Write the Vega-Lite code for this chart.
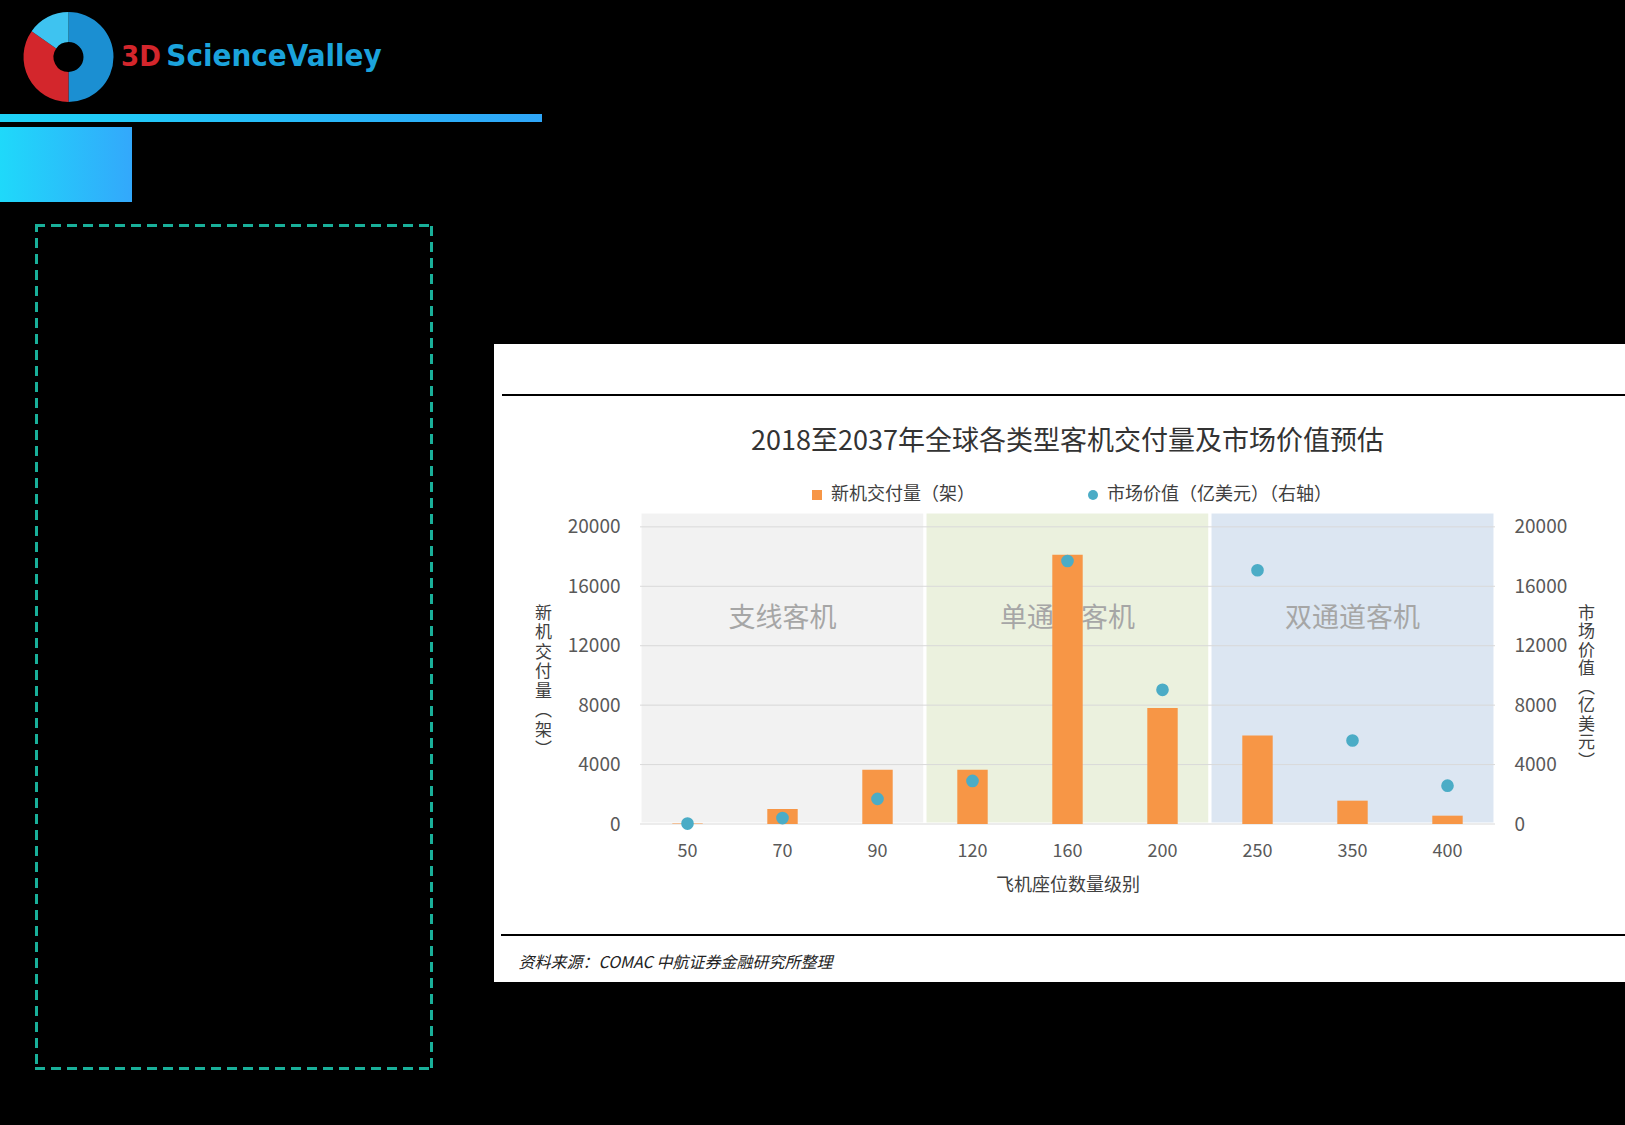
{
  "$schema": "https://vega.github.io/schema/vega-lite/v6.json",
  "background": "white",
  "padding": 0,
  "spacing": 0,
  "config": {
    "view": {"stroke": null},
    "concat": {"spacing": 0},
    "font": "Noto Sans CJK SC"
  },
  "resolve": {"scale": {"color": "independent", "fill": "independent", "theta": "independent"}},
  "data": {"values": []},
  "datasets": {
    "rows": [
      {"seats": "50", "deliveries": 40, "value": 30},
      {"seats": "70", "deliveries": 1010, "value": 400},
      {"seats": "90", "deliveries": 3650, "value": 1690},
      {"seats": "120", "deliveries": 3650, "value": 2900},
      {"seats": "160", "deliveries": 18120, "value": 17700},
      {"seats": "200", "deliveries": 7800, "value": 9030},
      {"seats": "250", "deliveries": 5950, "value": 17080},
      {"seats": "350", "deliveries": 1570, "value": 5620},
      {"seats": "400", "deliveries": 560, "value": 2580}
    ],
    "bands": [
      {"name": "支线客机", "from": "50", "to": "90", "mid": "70"},
      {"name": "单通道客机", "from": "120", "to": "200", "mid": "160"},
      {"name": "双通道客机", "from": "250", "to": "400", "mid": "350"}
    ],
    "grid": [{"g": 0}, {"g": 4000}, {"g": 8000}, {"g": 12000}, {"g": 16000}, {"g": 20000}],
    "swirl": [{"part": "a", "share": 180}, {"part": "b", "share": 125}, {"part": "c", "share": 55}]
  },
  "vconcat": [
    {
      "spacing": 0,
      "hconcat": [
        {"width": 23, "height": 114, "view": {"fill": "black"}, "mark": "point", "encoding": {}},
        {
          "width": 91, "height": 114,
          "view": {"fill": "black"},
          "data": {"name": "swirl"},
          "mark": {"type": "arc", "outerRadius": 45, "innerRadius": 15},
          "encoding": {
            "theta": {"field": "share", "type": "quantitative"},
            "color": {"field": "part", "type": "nominal", "scale": {"domain": ["a", "b", "c"], "range": ["#1B8FD2", "#D3262C", "#3EC3F0"]}, "legend": null}
          }
        },
        {"width": 5, "height": 114, "view": {"fill": "black"}, "mark": "point", "encoding": {}},
        {
          "width": 44, "height": 114,
          "view": {"fill": "black"},
          "data": {"values": [{}]},
          "mark": {"type": "text", "text": "3D", "font": "DejaVu Sans Condensed, DejaVu Sans, sans-serif", "fontSize": 29, "fontWeight": "bold", "color": "#D3262C", "align": "center", "baseline": "middle"},
          "encoding": {}
        },
        {
          "width": 222, "height": 114,
          "view": {"fill": "black"},
          "data": {"values": [{}]},
          "mark": {"type": "text", "text": "ScienceValley", "font": "DejaVu Sans Condensed, DejaVu Sans, sans-serif", "fontSize": 31, "fontWeight": "bold", "color": "#1BA3DC", "align": "center", "baseline": "middle"},
          "encoding": {}
        },
        {"width": 1240, "height": 114, "view": {"fill": "black"}, "mark": "point", "encoding": {}}
      ]
    },
    {
      "spacing": 0,
      "hconcat": [
        {
          "width": 542, "height": 8,
          "view": {"fill": "black"},
          "data": {"values": [{}]},
          "mark": {"type": "rect", "color": {"gradient": "linear", "stops": [{"offset": 0, "color": "#1ED3F8"}, {"offset": 1, "color": "#2FA6F8"}]}},
          "encoding": {}
        },
        {"width": 1083, "height": 8, "view": {"fill": "black"}, "mark": "point", "encoding": {}}
      ]
    },
    {"width": 1625, "height": 5, "view": {"fill": "black"}, "mark": "point", "encoding": {}},
    {
      "spacing": 0,
      "hconcat": [
        {
          "width": 132, "height": 75,
          "view": {"fill": "black"},
          "data": {"values": [{}]},
          "mark": {"type": "rect", "color": {"gradient": "linear", "stops": [{"offset": 0, "color": "#1FD9FA"}, {"offset": 1, "color": "#33A8FB"}]}},
          "encoding": {}
        },
        {"width": 1493, "height": 75, "view": {"fill": "black"}, "mark": "point", "encoding": {}}
      ]
    },
    {"width": 1625, "height": 22, "view": {"fill": "black"}, "mark": "point", "encoding": {}},
    {
      "spacing": 0,
      "resolve": {"scale": {"color": "independent", "fill": "independent"}},
      "hconcat": [
        {"width": 35, "height": 901, "view": {"fill": "black"}, "mark": "point", "encoding": {}},
        {
          "spacing": 0,
          "vconcat": [
            {
              "width": 398, "height": 846,
              "view": {"fill": "black"},
              "data": {"values": [{}]},
              "mark": {"type": "rect", "fill": "black", "stroke": "#19B09A", "strokeWidth": 6, "strokeDash": [10, 6], "clip": true},
              "encoding": {}
            },
            {"width": 398, "height": 55, "view": {"fill": "black"}, "mark": "point", "encoding": {}}
          ]
        },
        {"width": 61, "height": 901, "view": {"fill": "black"}, "mark": "point", "encoding": {}},
        {
          "spacing": 0,
          "resolve": {"scale": {"color": "independent", "fill": "independent"}},
          "vconcat": [
            {"width": 1131, "height": 120, "view": {"fill": "black"}, "mark": "point", "encoding": {}},
            {"width": 1131, "height": 50, "view": {"fill": "white"}, "mark": "point", "encoding": {}},
            {
              "spacing": 0,
              "hconcat": [
                {"width": 8, "height": 2, "view": {"fill": "white"}, "mark": "point", "encoding": {}},
                {"width": 1123, "height": 2, "view": {"fill": "black"}, "mark": "point", "encoding": {}}
              ]
            },
            {"width": 1131, "height": 32, "view": {"fill": "white"}, "mark": "point", "encoding": {}},
            {
              "spacing": 0,
              "resolve": {"scale": {"color": "independent", "fill": "independent"}},
              "hconcat": [
                {"width": 40, "height": 1, "view": {"fill": "white"}, "mark": "point", "encoding": {}},
                {
                  "width": 855, "height": 312,
                  "view": {"fill": "white", "stroke": null},
                  "title": {"text": "2018至2037年全球各类型客机交付量及市场价值预估", "fontSize": 27, "fontWeight": "normal", "color": "#333333", "anchor": "middle", "frame": "group", "offset": 30},
                  "resolve": {"scale": {"y": "independent"}},
                  "layer": [
                    {
                      "data": {"name": "bands"},
                      "mark": {"type": "rect", "stroke": "white", "strokeWidth": 3},
                      "encoding": {
                        "x": {
                          "field": "from", "type": "ordinal", "bandPosition": 0, "title": "飞机座位数量级别",
                          "scale": {"type": "band", "domain": ["50", "70", "90", "120", "160", "200", "250", "350", "400"], "paddingInner": 0, "paddingOuter": 0},
                          "axis": {"labelAngle": 0, "labelFontSize": 18, "labelColor": "#595959", "ticks": false, "domain": false, "grid": false, "labelPadding": 18, "titleFontSize": 18, "titleFontWeight": "normal", "titleColor": "#404040", "titlePadding": 16}
                        },
                        "x2": {"field": "to", "bandPosition": 1},
                        "fill": {"field": "name", "type": "nominal", "scale": {"domain": ["支线客机", "单通道客机", "双通道客机"], "range": ["#F2F2F2", "#EBF1DE", "#DCE6F2"]}, "legend": null}
                      }
                    },
                    {
                      "data": {"name": "grid"},
                      "mark": {"type": "rule", "color": "#D9D9D9", "strokeWidth": 1},
                      "encoding": {
                        "y": {"field": "g", "type": "quantitative", "scale": {"domain": [0, 21000]}, "axis": null}
                      }
                    },
                    {
                      "data": {"name": "bands"},
                      "mark": {"type": "text", "fontSize": 27, "color": "#A6A6A6", "baseline": "middle", "align": "center"},
                      "encoding": {
                        "x": {
                          "field": "mid", "type": "ordinal", "title": "飞机座位数量级别",
                          "scale": {"type": "band", "domain": ["50", "70", "90", "120", "160", "200", "250", "350", "400"], "paddingInner": 0, "paddingOuter": 0},
                          "axis": {"labelAngle": 0, "labelFontSize": 18, "labelColor": "#595959", "ticks": false, "domain": false, "grid": false, "labelPadding": 18, "titleFontSize": 18, "titleFontWeight": "normal", "titleColor": "#404040", "titlePadding": 16}
                        },
                        "y": {"datum": 13780, "type": "quantitative", "scale": {"domain": [0, 21000]}, "axis": null},
                        "text": {"field": "name"}
                      }
                    },
                    {
                      "data": {"name": "rows"},
                      "mark": {"type": "bar", "width": {"band": 0.32}},
                      "encoding": {
                        "x": {
                          "field": "seats", "type": "ordinal", "title": "飞机座位数量级别",
                          "scale": {"type": "band", "domain": ["50", "70", "90", "120", "160", "200", "250", "350", "400"], "paddingInner": 0, "paddingOuter": 0},
                          "axis": {"labelAngle": 0, "labelFontSize": 18, "labelColor": "#595959", "ticks": false, "domain": false, "grid": false, "labelPadding": 18, "titleFontSize": 18, "titleFontWeight": "normal", "titleColor": "#404040", "titlePadding": 16}
                        },
                        "y": {
                          "field": "deliveries", "type": "quantitative",
                          "scale": {"domain": [0, 21000]},
                          "axis": {
                            "orient": "left", "values": [0, 4000, 8000, 12000, 16000, 20000], "format": "d",
                            "grid": false, "ticks": false, "domain": false,
                            "labelFontSize": 19, "labelColor": "#595959", "labelPadding": 20,
                            "title": ["新", "机", "交", "付", "量", "︵", "架", "︶"],
                            "titleAngle": 0, "titleAlign": "center", "titleBaseline": "middle", "titleX": -97, "titleY": 101,
                            "titleFontSize": 17, "titleLineHeight": 19.5, "titleFontWeight": "normal", "titleColor": "#404040"
                          }
                        },
                        "color": {
                          "datum": "新机交付量（架）", "type": "nominal",
                          "scale": {"domain": ["新机交付量（架）", "市场价值（亿美元）（右轴）"], "range": ["#F79646", "#4BACC6"]},
                          "legend": {
                            "orient": "none", "legendX": 168, "legendY": -26, "direction": "horizontal", "title": null,
                            "labelFontSize": 18, "labelColor": "#404040", "labelLimit": 400, "labelOffset": 5,
                            "symbolSize": 100, "columnPadding": 109,
                            "encode": {"symbols": {"update": {"shape": [{"test": "datum.index === 0", "value": "square"}, {"value": "circle"}]}}}
                          }
                        }
                      }
                    },
                    {
                      "data": {"name": "rows"},
                      "mark": {"type": "point", "shape": "circle", "filled": true, "size": 160, "opacity": 1},
                      "encoding": {
                        "x": {
                          "field": "seats", "type": "ordinal", "title": "飞机座位数量级别",
                          "scale": {"type": "band", "domain": ["50", "70", "90", "120", "160", "200", "250", "350", "400"], "paddingInner": 0, "paddingOuter": 0},
                          "axis": {"labelAngle": 0, "labelFontSize": 18, "labelColor": "#595959", "ticks": false, "domain": false, "grid": false, "labelPadding": 18, "titleFontSize": 18, "titleFontWeight": "normal", "titleColor": "#404040", "titlePadding": 16}
                        },
                        "y": {
                          "field": "value", "type": "quantitative",
                          "scale": {"domain": [0, 21000]},
                          "axis": {
                            "orient": "right", "values": [0, 4000, 8000, 12000, 16000, 20000], "format": "d",
                            "grid": false, "ticks": false, "domain": false,
                            "labelFontSize": 19, "labelColor": "#595959", "labelPadding": 19,
                            "title": ["市", "场", "价", "值", "︵", "亿", "美", "元", "︶"],
                            "titleAngle": 0, "titleAlign": "center", "titleBaseline": "middle", "titleX": 91, "titleY": 101,
                            "titleFontSize": 17, "titleLineHeight": 18.5, "titleFontWeight": "normal", "titleColor": "#404040"
                          }
                        },
                        "color": {"datum": "市场价值（亿美元）（右轴）", "type": "nominal"}
                      }
                    }
                  ]
                }
              ]
            },
            {"width": 1131, "height": 40, "view": {"fill": "white"}, "mark": "point", "encoding": {}},
            {
              "spacing": 0,
              "hconcat": [
                {"width": 7, "height": 2, "view": {"fill": "white"}, "mark": "point", "encoding": {}},
                {"width": 1124, "height": 2, "view": {"fill": "black"}, "mark": "point", "encoding": {}}
              ]
            },
            {"width": 1131, "height": 8, "view": {"fill": "white"}, "mark": "point", "encoding": {}},
            {
              "spacing": 0,
              "hconcat": [
                {"width": 24, "height": 38, "view": {"fill": "white"}, "mark": "point", "encoding": {}},
                {
                  "width": 1, "height": 38,
                  "view": {"fill": "white"},
                  "data": {"values": [{}]},
                  "mark": {"type": "text", "text": "资料来源：COMAC 中航证券金融研究所整理", "align": "left", "baseline": "middle", "fontSize": 16, "fontStyle": "italic", "color": "#222222"},
                  "encoding": {}
                }
              ]
            },
            {"width": 1131, "height": 144, "view": {"fill": "black"}, "mark": "point", "encoding": {}}
          ]
        }
      ]
    }
  ]
}
